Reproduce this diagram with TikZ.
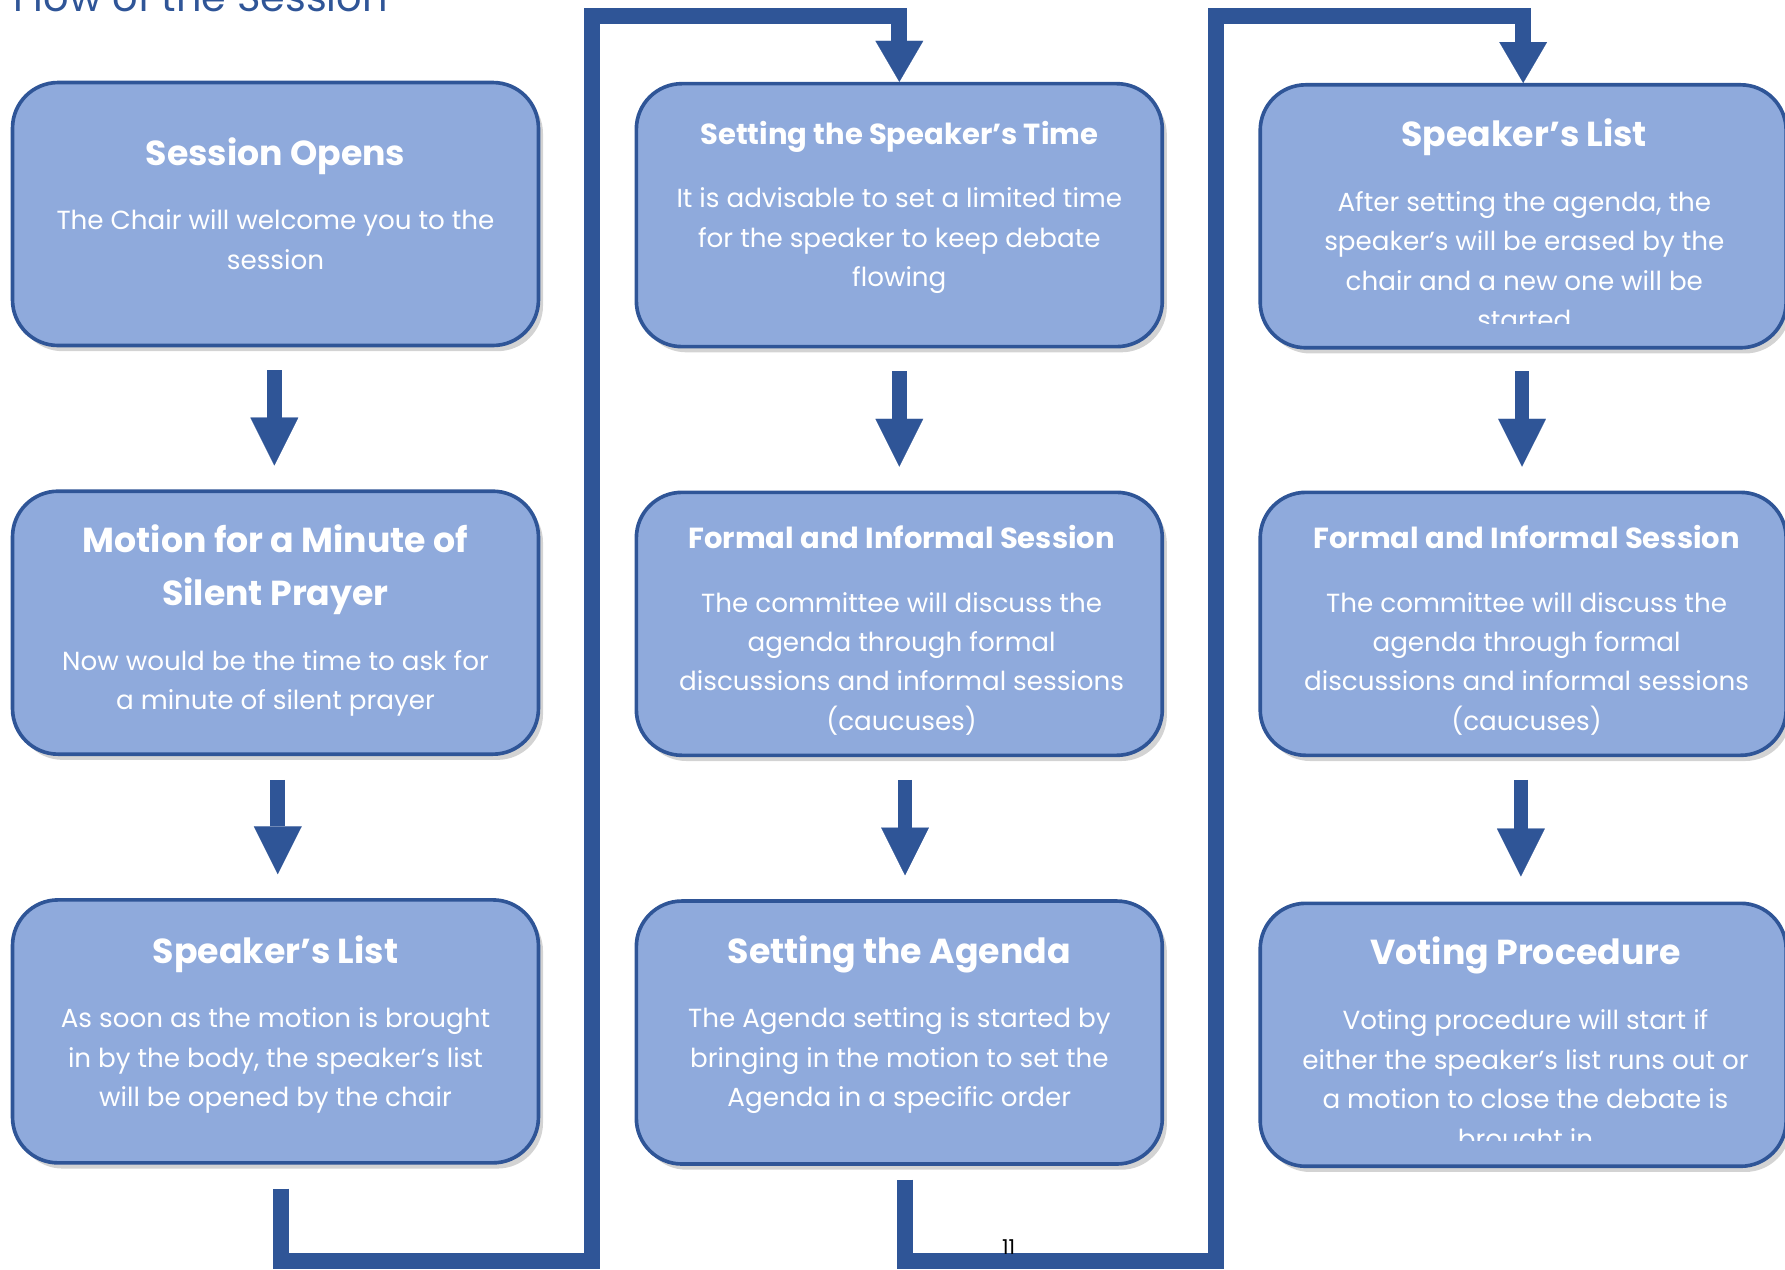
\documentclass[tikz,border=0pt]{standalone}
\usepackage{fontspec}
\setmainfont{Poppins}
\usetikzlibrary{arrows.meta,shadows,positioning}

\definecolor{cardfill}{HTML}{8FAADC}
\definecolor{cardline}{HTML}{2F5597}

\tikzset{
  card/.style={draw=cardline, line width=3.2pt, fill=cardfill, rounded corners=40pt,
    minimum width=462pt, minimum height=231pt,
    drop shadow={shadow xshift=4pt, shadow yshift=-5pt, opacity=0.35}},
  bigtitle/.style={text=white, font=\bfseries\fontsize{30.5}{46}\selectfont, align=center, inner sep=0pt},
  smalltitle/.style={text=white, font=\bfseries\fontsize{25.5}{30}\selectfont, align=center, inner sep=0pt},
  bodytext/.style={text=white, font=\fontsize{23}{34.6}\selectfont, align=center, inner sep=0pt, anchor=north},
  downarrow/.style={cardline, line width=13pt, -{Triangle[width=42pt, length=42pt, line width=0.1pt]}},
  link/.style={cardline, line width=14pt, line join=miter, -{Triangle[width=42pt, length=36pt, line width=0.1pt]}}
}

\begin{document}
\begin{tikzpicture}[x=1pt, y=-1pt]
      % page frame
      \useasboundingbox (0,0) rectangle (1568,1115);
      \clip (0,0) rectangle (1568,1115);

      % heading, cut by the top edge
      \node[anchor=base west, inner sep=0pt, text=cardline, font=\fontsize{35}{35}\selectfont] (heading) at (12,10) {Flow of the Session};

      % first column
      \node[card] (opens) at (242,188) {};
      \node[card] (prayer) at (242,547) {};
      \node[card] (listA) at (242,906) {};

      % second column
      \node[card] (time) at (790,189) {};
      \node[card] (formalA) at (790,548) {};
      \node[card] (agenda) at (790,907) {};

      % third column
      \node[card] (listB) at (1338,190) {};
      \node[card] (formalB) at (1338,548) {};
      \node[card] (voting) at (1338,909) {};

      % texts of the first column
      \node[bigtitle, anchor=base] (opensT) at (242,145) {Session Opens};
      \node[bodytext] (opensB) at (242,184) {The Chair will welcome you to the\\session};
      \node[bigtitle, anchor=north] (prayerT) at (242,461) {Motion for a Minute of\\Silent Prayer};
      \node[bodytext] (prayerB) at (242,571) {Now would be the time to ask for\\a minute of silent prayer};
      \node[bigtitle, anchor=base] (listAT) at (242,846) {Speaker’s List};
      \node[bodytext] (listAB) at (242,885) {As soon as the motion is brought\\in by the body, the speaker’s list\\will be opened by the chair};

      % texts of the second column
      \node[smalltitle, anchor=base] (timeT) at (790,127) {Setting the Speaker’s Time};
      \node[bodytext] (timeB) at (790,165) {It is advisable to set a limited time\\for the speaker to keep debate\\flowing};
      \node[smalltitle, anchor=base] (formalAT) at (792,482) {Formal and Informal Session};
      \node[bodytext] (formalAB) at (792,520) {The committee will discuss the\\agenda through formal\\discussions and informal sessions\\(caucuses)};
      \node[bigtitle, anchor=base] (agendaT) at (790,846) {Setting the Agenda};
      \node[bodytext] (agendaB) at (790,885) {The Agenda setting is started by\\bringing in the motion to set the\\Agenda in a specific order};

      % texts of the third column (the last lines are cut off)
      \node[bigtitle, anchor=base] (listBT) at (1339,129) {Speaker’s List};
      \begin{scope}
        \clip (1106,150) rectangle (1568,284);
        \node[bodytext] (listBB) at (1339,168) {After setting the agenda, the\\speaker’s will be erased by the\\chair and a new one will be\\started};
      \end{scope}
      \node[smalltitle, anchor=base] (formalBT) at (1341,482) {Formal and Informal Session};
      \node[bodytext] (formalBB) at (1341,520) {The committee will discuss the\\agenda through formal\\discussions and informal sessions\\(caucuses)};
      \node[bigtitle, anchor=base] (votingT) at (1340,847) {Voting Procedure};
      \begin{scope}
        \clip (1106,850) rectangle (1568,1002);
        \node[bodytext] (votingB) at (1340,887) {Voting procedure will start if\\either the speaker’s list runs out or\\a motion to close the debate is\\brought in};
      \end{scope}

      % arrows inside the columns
      \draw[downarrow] ([xshift=-1pt, yshift=-20pt]opens.south) -- ([xshift=-1pt, yshift=21pt]prayer.north);
      \draw[downarrow] ([xshift=2pt, yshift=-21pt]prayer.south) -- ([xshift=2pt, yshift=21pt]listA.north);
      \draw[downarrow] ([yshift=-20pt]time.south) -- ([yshift=21pt]formalA.north);
      \draw[downarrow] ([xshift=5pt, yshift=-20pt]formalA.south) -- ([xshift=5pt, yshift=21pt]agenda.north);
      \draw[downarrow] ([xshift=-1pt, yshift=-19pt]listB.south) -- ([xshift=-1pt, yshift=21pt]formalB.north);
      \draw[downarrow] ([xshift=-2pt, yshift=-20pt]formalB.south) -- ([xshift=-2pt, yshift=22pt]voting.north);

      % elbow links from one column to the next
      \coordinate (lowA) at (520,1108);
      \coordinate (topA) at (790,14);
      \coordinate (lowB) at (1068,1108);
      \coordinate (topB) at (1338,14);
      \draw[link] ([xshift=5pt, yshift=-21pt]listA.south) |- (lowA) |- (topA) -- (time.north);
      \draw[link] ([xshift=5pt, yshift=-12pt]agenda.south) |- (lowB) |- (topB) -- (listB.north);

      % page number
      \node[anchor=base, inner sep=0pt, font=\fontsize{18}{18}\selectfont] (pagenum) at (886,1102) {11};
\end{tikzpicture}
\end{document}
